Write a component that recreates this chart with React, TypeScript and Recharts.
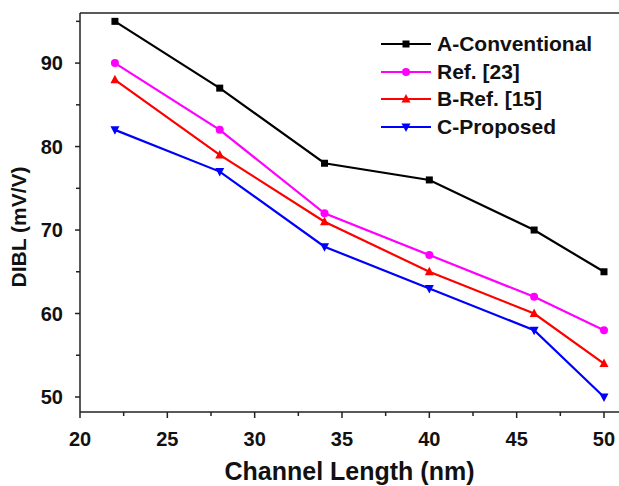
import { LineChart, Line, XAxis, YAxis, ReferenceLine } from 'recharts';

const channelLength = [22, 28, 34, 40, 46, 50];
const conventional = [95, 87, 78, 76, 70, 65];
const ref23 = [90, 82, 72, 67, 62, 58];
const bRef15 = [88, 79, 71, 65, 60, 54];
const proposed = [82, 77, 68, 63, 58, 50];

const xTicks = [20, 22.5, 25, 27.5, 30, 32.5, 35, 37.5, 40, 42.5, 45, 47.5, 50];
const yTicks = [50, 55, 60, 65, 70, 75, 80, 85, 90, 95];
const xLabeled = [20, 25, 30, 35, 40, 45, 50];
const yLabeled = [50, 60, 70, 80, 90];

const data = channelLength.map((x, i) => ({
  x,
  conventional: conventional[i],
  ref23: ref23[i],
  bRef15: bRef15[i],
  proposed: proposed[i],
}));

const FONT = '"Liberation Sans", Arial, sans-serif';
const AXIS = '#222';

const SERIES = [
  { key: 'conventional', name: 'A-Conventional', color: '#000000', marker: 'square' },
  { key: 'ref23', name: 'Ref. [23]', color: '#ff00ff', marker: 'circle' },
  { key: 'bRef15', name: 'B-Ref. [15]', color: '#ff0000', marker: 'up' },
  { key: 'proposed', name: 'C-Proposed', color: '#0000ff', marker: 'down' },
];

function Marker({ cx, cy, type, color }: any) {
  if (cx == null || cy == null) return null;
  if (type === 'square') return <rect x={cx - 3.5} y={cy - 3.5} width={7} height={7} fill={color} />;
  if (type === 'circle') return <circle cx={cx} cy={cy} r={4} fill={color} />;
  if (type === 'up')
    return <polygon points={`${cx},${cy - 5} ${cx - 4.5},${cy + 3.5} ${cx + 4.5},${cy + 3.5}`} fill={color} />;
  return <polygon points={`${cx},${cy + 5} ${cx - 4.5},${cy - 3.5} ${cx + 4.5},${cy - 3.5}`} fill={color} />;
}

function XTick({ x, y, payload }: any) {
  const major = xLabeled.includes(payload.value);
  return (
    <g>
      <line x1={x} x2={x} y1={y} y2={y + (major ? 6 : 4)} stroke={AXIS} strokeWidth={1.5} />
      {major && (
        <text x={x} y={y + 34} textAnchor="middle" fontFamily={FONT} fontWeight="bold" fontSize={20} fill="#111">
          {payload.value}
        </text>
      )}
    </g>
  );
}

function YTick({ x, y, payload }: any) {
  const major = yLabeled.includes(payload.value);
  return (
    <g>
      <line x1={x - (major ? 5 : 4)} x2={x} y1={y} y2={y} stroke={AXIS} strokeWidth={1.5} />
      {major && (
        <text x={x - 17} y={y + 7} textAnchor="end" fontFamily={FONT} fontWeight="bold" fontSize={20} fill="#111">
          {payload.value}
        </text>
      )}
    </g>
  );
}

function LegendBox() {
  return (
    <div
      style={{
        position: 'absolute',
        left: 378,
        top: 30,
        fontFamily: FONT,
        fontWeight: 'bold',
        fontSize: 21,
        color: '#111',
      }}
    >
      {SERIES.map((s) => (
        <div key={s.key} style={{ display: 'flex', alignItems: 'center', height: 27.7 }}>
          <svg width={56} height={12} style={{ marginRight: 3 }}>
            <line x1={3} x2={53} y1={6} y2={6} stroke={s.color} strokeWidth={2.2} />
            <Marker cx={28} cy={6} type={s.marker} color={s.color} />
          </svg>
          <span>{s.name}</span>
        </div>
      ))}
    </div>
  );
}

export default function App() {
  return (
    <div style={{ position: 'absolute', left: 0, top: 0, width: 619, height: 486, background: '#fff' }}>
      <LineChart width={619} height={486} data={data} margin={{ top: 13, right: 0, bottom: 0, left: 0 }}>
        <XAxis
          dataKey="x"
          type="number"
          domain={[20, 50.86]}
          ticks={xTicks}
          allowDataOverflow
          height={74}
          stroke={AXIS}
          strokeWidth={1.5}
          tickLine={false}
          tickSize={0}
          tickMargin={0}
          tick={<XTick />}
          label={{
            content: ({ viewBox }: any) => (
              <text
                x={viewBox.x + viewBox.width / 2}
                y={480}
                textAnchor="middle"
                fontFamily={FONT}
                fontWeight="bold"
                fontSize={25}
                fill="#111"
              >
                Channel Length (nm)
              </text>
            ),
          }}
        />
        <YAxis
          type="number"
          domain={[48.2, 96]}
          ticks={yTicks}
          allowDataOverflow
          width={80}
          stroke={AXIS}
          strokeWidth={1.5}
          tickLine={false}
          tickSize={0}
          tickMargin={0}
          tick={<YTick />}
          label={{
            content: () => (
              <text
                x={26}
                y={227}
                transform="rotate(-90 26 227)"
                textAnchor="middle"
                fontFamily={FONT}
                fontWeight="bold"
                fontSize={21}
                fill="#111"
              >
                DIBL (mV/V)
              </text>
            ),
          }}
        />
        <ReferenceLine y={96} stroke={AXIS} strokeWidth={1.5} />
        {SERIES.map((s) => (
          <Line
            key={s.key}
            dataKey={s.key}
            name={s.name}
            stroke={s.color}
            strokeWidth={2.2}
            isAnimationActive={false}
            dot={(p: any) => <Marker key={`${s.key}-${p.index}`} cx={p.cx} cy={p.cy} type={s.marker} color={s.color} />}
            activeDot={false}
          />
        ))}
      </LineChart>
      <LegendBox />
    </div>
  );
}
